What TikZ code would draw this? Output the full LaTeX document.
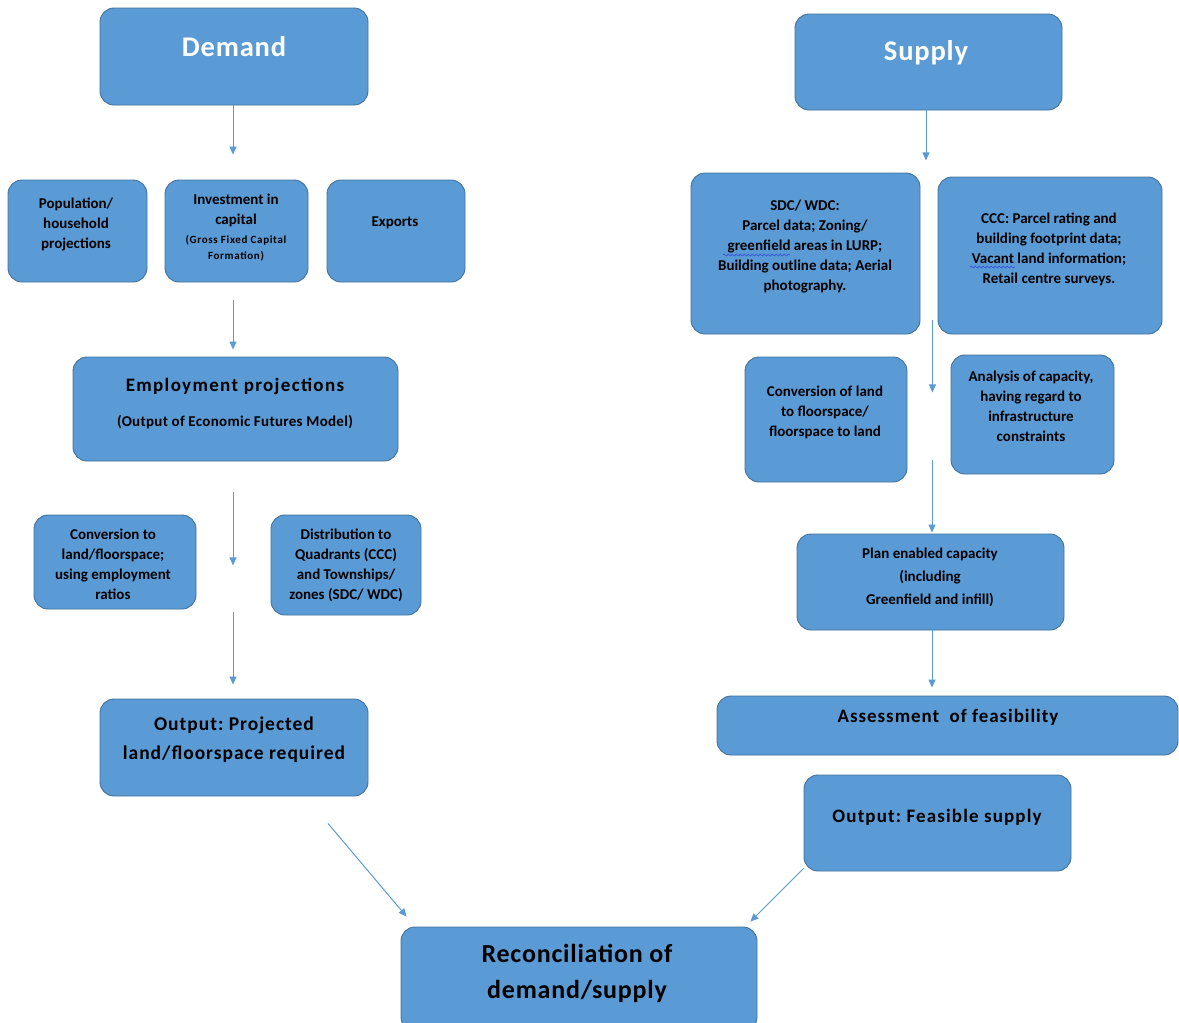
\documentclass[tikz,border=0pt]{standalone}
\usepackage{fontspec}
\setmainfont{Carlito}
\frenchspacing
\usetikzlibrary{arrows.meta,calc,decorations.pathmorphing}
\definecolor{boxc}{HTML}{5B9BD5}
\definecolor{bordc}{HTML}{41719C}
\definecolor{arrc}{HTML}{5B9BD5}
\definecolor{squig}{HTML}{3050E0}
\newcommand{\ls}[1]{\addfontfeatures{LetterSpace=#1}}
\tikzset{
  box/.style={draw=bordc, fill=boxc, rounded corners=14pt, line width=0.9pt, inner sep=0pt},
  txt/.style={font=\bfseries\fontsize{15}{20}\selectfont, align=center, inner sep=0pt, text=black},
  bigtxt/.style={font=\bfseries\fontsize{28.5}{34}\selectfont\ls{3}, align=center, inner sep=0pt, text=white},
  midtxt/.style={font=\bfseries\fontsize{19}{29}\selectfont, align=center, inner sep=0pt, text=black},
  arr/.style={draw=arrc, line width=1pt, -{Triangle[length=8pt,width=7pt]}},
  squiggle/.style={draw=squig, line width=0.7pt, decorate, decoration={snake, amplitude=1pt, segment length=4pt}}
}
\begin{document}
\begin{tikzpicture}[x=1pt,y=-1pt]
\useasboundingbox (0,0) rectangle (1179,1023);
% boxes
\node[box, minimum width=268pt, minimum height=97pt] (dem) at (234,56.5) {};
\node[box, minimum width=267pt, minimum height=96pt] (sup) at (928.5,62) {};
\node[box, minimum width=139pt, minimum height=102pt] (pop) at (77.5,231) {};
\node[box, minimum width=143pt, minimum height=102pt] (inv) at (236.5,231) {};
\node[box, minimum width=138pt, minimum height=102pt] (exp) at (396,231) {};
\node[box, minimum width=325pt, minimum height=104pt] (emp) at (235.5,409) {};
\node[box, minimum width=162pt, minimum height=94pt] (conv) at (115,562) {};
\node[box, minimum width=150pt, minimum height=100pt] (dist) at (346,565) {};
\node[box, minimum width=268pt, minimum height=97pt] (outd) at (234,747.5) {};
\node[box, minimum width=229pt, minimum height=161pt] (sdc) at (805.5,253.5) {};
\node[box, minimum width=224pt, minimum height=157pt] (ccc) at (1050,255.5) {};
\node[box, minimum width=162pt, minimum height=125pt] (convl) at (826,419.5) {};
\node[box, minimum width=163pt, minimum height=119pt] (anal) at (1032.5,414.5) {};
\node[box, minimum width=267pt, minimum height=96pt] (plan) at (930.5,582) {};
\node[box, minimum width=461pt, minimum height=59pt] (ass) at (947.5,725.5) {};
\node[box, minimum width=267pt, minimum height=96pt] (outs) at (937.5,823) {};
\node[box, minimum width=356pt, minimum height=104pt] (rec) at (579,979) {};
% texts
\node[bigtxt] (demt) at (234,47) {Demand};
\node[bigtxt] (supt) at (926,53) {Supply};
\node[txt] (popt) at (76,224) {Population/\\household\\projections};
\node[txt] (invt) at (236,210.5) {Investment in\\capital};
\node[txt, font=\bfseries\fontsize{11}{16}\selectfont\ls{6}] (invs) at (236,248) {(Gross Fixed Capital\\Formation)};
\node[txt] (expt) at (395,223) {Exports};
\node[midtxt, font=\bfseries\fontsize{19}{29}\selectfont\ls{7}] (empt) at (235,386) {Employment projections};
\node[txt, font=\bfseries\fontsize{15}{20}\selectfont\ls{2}] (emps) at (235,422) {(Output of Economic Futures Model)};
\node[txt] (convt) at (113,564) {Conversion to\\land/floorspace;\\using employment\\ratios};
\node[txt] (distt) at (346,565) {Distribution to\\Quadrants (CCC)\\and Townships/\\zones (SDC/ WDC)};
\node[midtxt, font=\bfseries\fontsize{19.5}{29}\selectfont\ls{5}] (outdt) at (234,739.5) {Output: Projected\\land/floorspace required};
\node[txt] (sdct) at (805,247) {SDC/ WDC:\\Parcel data; Zoning/\\greenfield areas in LURP;\\Building outline data; Aerial\\photography.};
\node[txt] (ccct) at (1049,249) {CCC: Parcel rating and\\building footprint data;\\Vacant land information;\\Retail centre surveys.};
\node[txt] (convlt) at (825,412) {Conversion of land\\to floorspace/\\floorspace to land};
\node[txt] (analt) at (1031,406) {Analysis of capacity,\\having regard to\\infrastructure\\constraints};
\node[txt, font=\bfseries\fontsize{15}{23}\selectfont] (plant) at (930,577) {Plan enabled capacity\\(including\\Greenfield and infill)};
\node[midtxt, font=\bfseries\fontsize{19}{29}\selectfont\ls{5}] (asst) at (948,717) {Assessment\ \ of feasibility};
\node[midtxt, font=\bfseries\fontsize{19}{29}\selectfont\ls{6}] (outst) at (937,817) {Output: Feasible supply};
\node[midtxt, font=\bfseries\fontsize{26}{36}\selectfont\ls{3}] (rect) at (577,973) {Reconciliation of\\demand/supply};
% spell-check marks
\draw[squiggle] (723,255) -- (790,255);
\draw[squiggle] (970,267) -- (1015,267);
% arrows
\draw[arr] ($(dem.south)+(-1,0)$) -- ($(pop.north -| dem.south)+(-1,-25)$);
\draw[arr] ($(emp.north)+(-2.5,-57)$) -- ($(emp.north)+(-2.5,-7)$);
\draw[arr] ($(emp.south)+(-2.5,31)$) -- ($(emp.south)+(-2.5,104)$);
\draw[arr] ($(outd.north)+(-1,-87)$) -- ($(outd.north)+(-1,-14)$);
\draw[arr] ($(outd.south)+(94,27)$) -- ($(rec.north west)+(6,-10)$);
\draw[arr] ($(sup.south)+(-2.5,0)$) -- ($(sup.south)+(-2.5,50)$);
\draw[arr] ($(sdc.south east)+(12,-14)$) -- ($(sdc.south east)+(12,58)$);
\draw[arr] ($(plan.north)+(1.5,-74)$) -- ($(plan.north)+(1.5,-1)$);
\draw[arr] ($(plan.south)+(1.5,0)$) -- ($(ass.north)+(-15.5,-8)$);
\draw[arr] ($(outs.south west)+(0,-3)$) -- ($(rec.north east)+(-7,-5)$);
\end{tikzpicture}
\end{document}
